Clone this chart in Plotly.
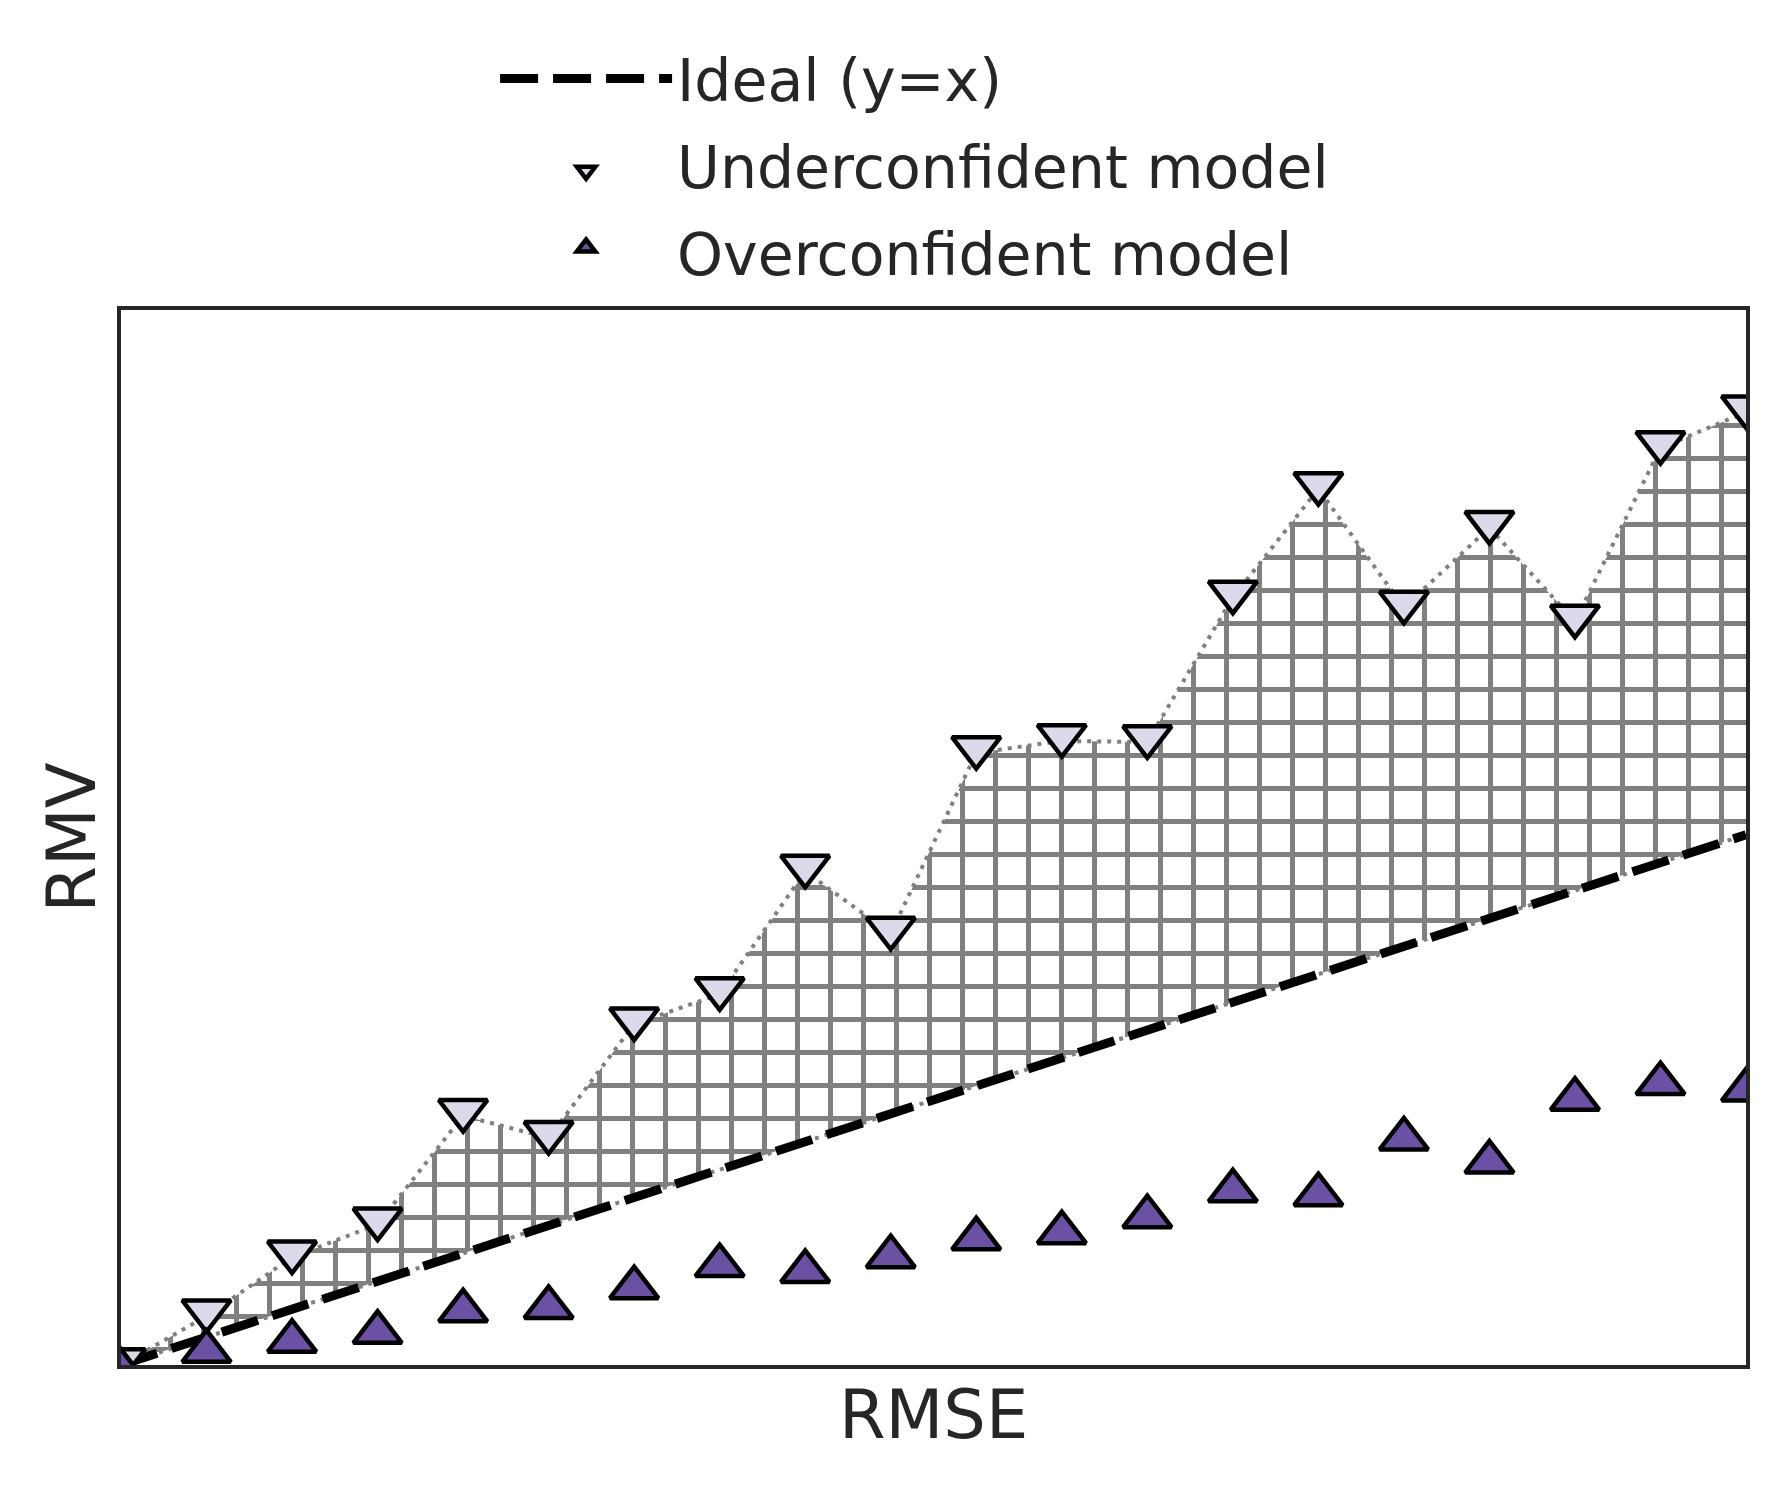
#!/usr/bin/env python

import plotly.graph_objects as go

rmse = [0.1, 0.2, 0.3, 0.4, 0.5, 0.6, 0.7, 0.8, 0.9, 1.0,
        1.1, 1.2, 1.3, 1.4, 1.5, 1.6, 1.7, 1.8, 1.9, 2.0]
rmv_under = [0.100, 0.275, 0.486, 0.604, 0.993, 0.914, 1.321, 1.429, 1.868, 1.646,
             2.293, 2.336, 2.332, 2.850, 3.239, 2.814, 3.100, 2.764, 3.386, 3.514]
rmv_over = [0.100, 0.168, 0.204, 0.236, 0.313, 0.325, 0.396, 0.475, 0.454, 0.507,
            0.571, 0.593, 0.650, 0.743, 0.729, 0.929, 0.846, 1.071, 1.127, 1.104]

x_range = [0.1, 2.0]
y_range = [0.1, 3.88]

text_color = "#262626"
font_family = "DejaVu Sans"
marker_size = 42

fig = go.Figure()

# lower edge of the hatched band (dotted border along y=x)
fig.add_trace(go.Scatter(
    x=rmse, y=rmse, mode="lines",
    line=dict(color="grey", width=4, dash="4px,6px"),
    showlegend=False, hoverinfo="skip",
))
# hatched band between ideal line and underconfident curve
fig.add_trace(go.Scatter(
    x=rmse, y=rmv_under, mode="lines",
    line=dict(color="grey", width=4, dash="4px,6px"),
    fill="tonexty",
    fillcolor="rgba(255,255,255,0)",
    fillpattern=dict(shape="+", fgcolor="#808080", fgopacity=1,
                     bgcolor="rgba(255,255,255,0)",
                     size=33, solidity=0.28),
    showlegend=False, hoverinfo="skip",
))

fig.add_trace(go.Scatter(
    x=rmse, y=rmse, mode="lines", name="Ideal (y=x)",
    line=dict(color="black", width=9, dash="38px,15px"),
    legendgroup="a",
))
# triangles are centred on their bounding box (standoff = r/4)
fig.add_trace(go.Scatter(
    x=rmse, y=rmv_under, mode="markers", name="Underconfident model",
    marker=dict(symbol="triangle-up", angle=180, standoff=marker_size / 8,
                size=marker_size, color="#dadaeb",
                line=dict(color="black", width=4.5)),
    legendgroup="b",
))
fig.add_trace(go.Scatter(
    x=rmse, y=rmv_over, mode="markers", name="Overconfident model",
    marker=dict(symbol="triangle-up", standoff=marker_size / 8,
                size=marker_size, color="#6a51a3",
                line=dict(color="black", width=4.5)),
    legendgroup="c",
))

# the page body adds an 8px margin, so the figure is 8px smaller
fig.update_layout(
    width=1774,
    height=1479,
    autosize=False,
    margin=dict(l=113, r=36, t=302, b=122),
    plot_bgcolor="white",
    paper_bgcolor="white",
    font=dict(family=font_family, color=text_color),
    showlegend=True,
    legend=dict(
        x=0.2302, xanchor="left",
        y=1.2616, yanchor="top",
        font=dict(size=58.5, color=text_color, family=font_family),
        itemwidth=172,
        tracegroupgap=8,
        bgcolor="rgba(0,0,0,0)",
    ),
    annotations=[
        dict(text="RMSE", x=0.5, y=0, xref="paper", yref="paper",
             xanchor="center", yanchor="top", yshift=-9, showarrow=False,
             font=dict(size=67, color=text_color, family=font_family)),
        dict(text="RMV", x=0, y=0.5, xref="paper", yref="paper",
             xanchor="right", yanchor="middle", xshift=-9, textangle=-90,
             showarrow=False,
             font=dict(size=67, color=text_color, family=font_family)),
    ],
)

fig.update_xaxes(
    range=x_range,
    mirror=True,
    showline=True,
    linecolor=text_color,
    linewidth=3.5,
    showgrid=False,
    zeroline=False,
    showticklabels=False,
    ticks="",
)
fig.update_yaxes(
    range=y_range,
    mirror=True,
    showline=True,
    linecolor=text_color,
    linewidth=3.5,
    showgrid=False,
    zeroline=False,
    showticklabels=False,
    ticks="",
)

fig.write_html("out.html")
